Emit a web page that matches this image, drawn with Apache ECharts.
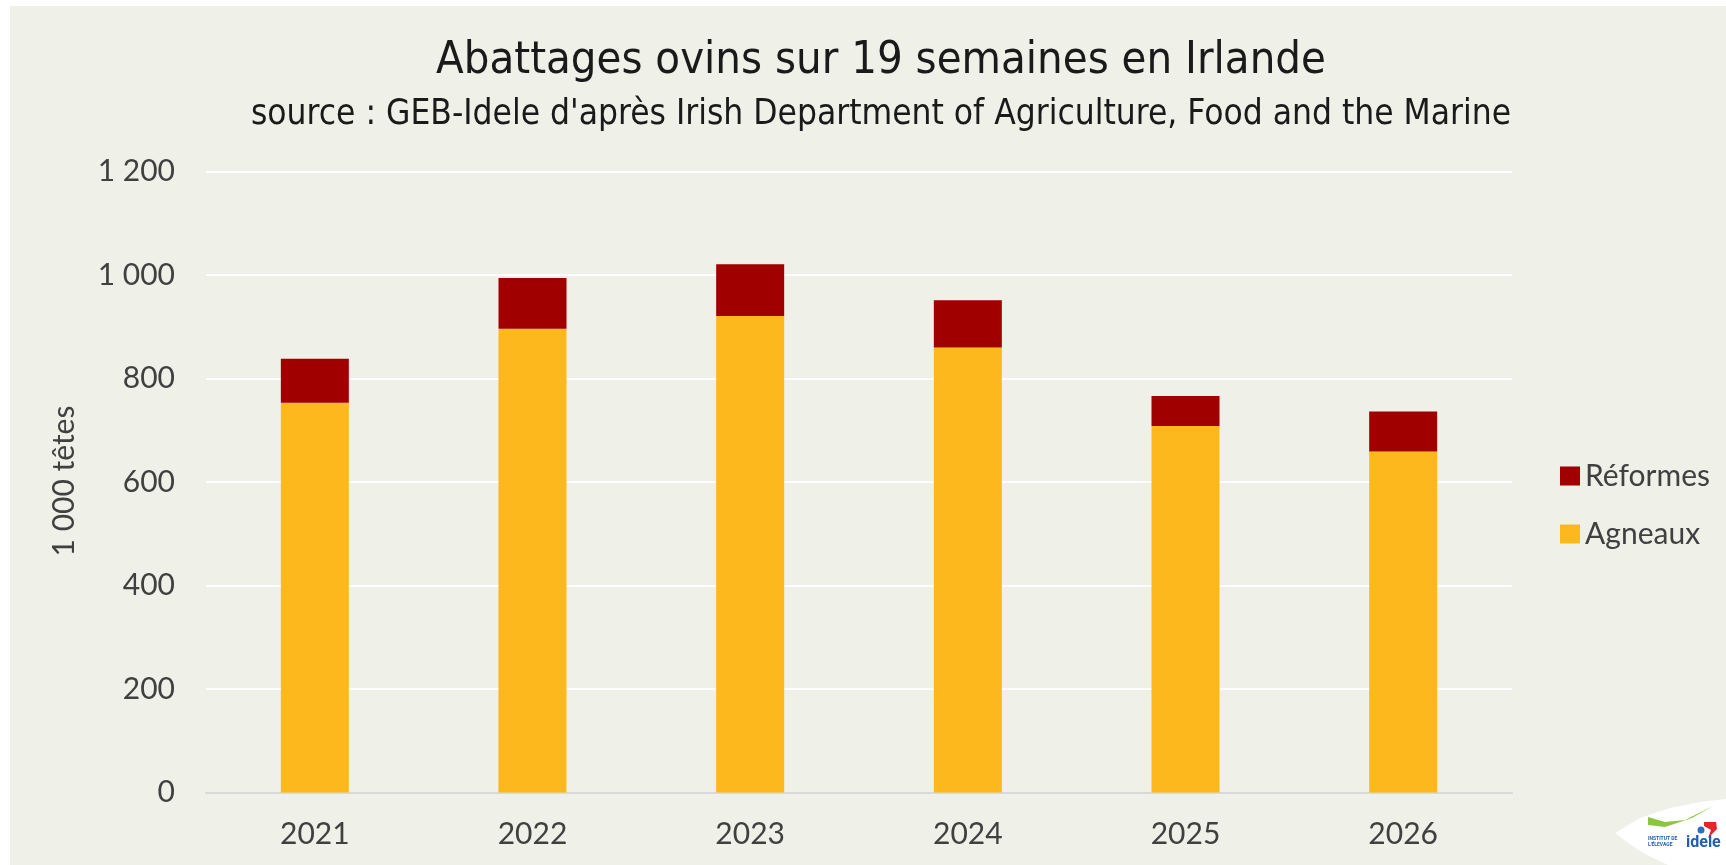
<!DOCTYPE html>
<html>
<head>
<meta charset="utf-8">
<script src="https://cdn.jsdelivr.net/npm/echarts@6/dist/echarts.min.js"></script>
<style>
  html, body { margin: 0; padding: 0; background: #ffffff; }
  #bg { position: absolute; left: 10px; top: 6px; width: 1716px; height: 859px; background: #eff0e8; }
  #chart_01 { position: absolute; left: 0; top: 0; width: 1726px; height: 865px; }
</style>
</head>
<body>
<div id="bg"></div>
<div id="chart_01"></div>
<script>
var years = ['2021', '2022', '2023', '2024', '2025', '2026'];
var agneaux = [753, 896, 921, 860, 708, 659];
var reformes = [85, 98, 100, 91, 58, 77];
var yTicks = [0, 200, 400, 600, 800, 1000, 1200];

function fmt(v) {
    // "1 200" style
    return String(v).replace(/\B(?=(\d{3})+(?!\d))/g, ' ');
}

var myChart = echarts.init(document.getElementById('chart_01'));
var option = {
    backgroundColor: 'transparent',
    animation: false,
    title: {
        text: 'Abattages ovins sur 19 semaines en Irlande',
        subtext: "source : GEB-Idele d'après Irish Department of Agriculture, Food and the Marine",
        left: 876,
        textAlign: 'center',
        top: 34,
        itemGap: 13,
        textStyle: {
            fontFamily: '"Liberation Sans Narrow", "DejaVu Sans Condensed", "Noto Sans"',
            fontSize: 45,
            fontWeight: 'normal',
            color: '#1a1a1a'
        },
        subtextStyle: {
            fontFamily: '"Liberation Sans Narrow", "DejaVu Sans Condensed", "Noto Sans"',
            fontSize: 35,
            color: '#1a1a1a'
        }
    },
    legend: {
        data: ['Réformes', 'Agneaux'],
        orient: 'vertical',
        left: 1555,
        top: 456,
        itemWidth: 20,
        itemHeight: 19,
        itemGap: 28,
        icon: 'rect',
        textStyle: {
            fontFamily: 'Lato',
            fontSize: 30,
            color: '#404040'
        }
    },
    grid: {
        left: 206,
        right: 214,
        top: 171.5,
        bottom: 72.5
    },
    xAxis: {
        type: 'category',
        data: years,
        axisLine: { lineStyle: { color: '#d9d9d9', width: 2 } },
        axisTick: { show: false },
        axisLabel: {
            margin: 27,
            fontFamily: 'Lato',
            fontSize: 30,
            color: '#404040'
        }
    },
    yAxis: {
        type: 'value',
        min: 0,
        max: 1200,
        interval: 200,
        axisLine: { show: false },
        axisTick: { show: false },
        splitLine: { lineStyle: { color: '#ffffff', width: 2 } },
        axisLabel: {
            margin: 31,
            fontFamily: 'Lato',
            fontSize: 30,
            color: '#404040',
            formatter: function (v) { return fmt(v); }
        }
    },
    graphic: [
        {
            type: 'text',
            x: 64,
            y: 481,
            rotation: Math.PI / 2,
            style: {
                text: '1 000 têtes',
                fontFamily: 'Lato',
                fontSize: 30,
                fill: '#404040',
                textAlign: 'center',
                textVerticalAlign: 'middle'
            }
        },
        // idele logo in the bottom right corner
        {
            type: 'polygon',
            shape: {
                points: [[1615, 833], [1640, 818], [1670, 808], [1700, 802], [1726, 799],
                         [1726, 865], [1668, 865], [1645, 854], [1628, 843]]
            },
            style: { fill: '#ffffff' }
        },
        {
            type: 'polygon',
            shape: { points: [[1648, 817], [1665, 822], [1685, 820], [1713, 806], [1692, 818], [1665, 827], [1648, 825]] },
            style: { fill: '#8cc63f' }
        },
        {
            type: 'polygon',
            shape: { points: [[1704, 822], [1716, 822], [1717, 829], [1708, 838], [1711, 830], [1704, 826]] },
            style: { fill: '#e3262b' }
        },
        {
            type: 'circle',
            shape: { cx: 1701, cy: 830, r: 3.5 },
            style: { fill: '#2f6fb7' }
        },
        {
            type: 'text',
            x: 1686,
            y: 843,
            style: {
                text: 'idele',
                fontFamily: 'Roboto',
                fontWeight: 'bold',
                fontSize: 16,
                fill: '#1f5fae',
                textVerticalAlign: 'middle'
            }
        },
        {
            type: 'text',
            x: 1648,
            y: 839,
            style: { text: 'INSTITUT DE', fontFamily: 'Roboto', fontWeight: 'bold', fontSize: 5, fill: '#1f5fae', textVerticalAlign: 'middle' }
        },
        {
            type: 'text',
            x: 1648,
            y: 845,
            style: { text: "L'ÉLEVAGE", fontFamily: 'Roboto', fontWeight: 'bold', fontSize: 5, fill: '#1f5fae', textVerticalAlign: 'middle' }
        }
    ],
    series: [
        {
            name: 'Agneaux',
            type: 'bar',
            stack: 'total',
            data: agneaux,
            barWidth: 68,
            itemStyle: { color: '#fdb81e' }
        },
        {
            name: 'Réformes',
            type: 'bar',
            stack: 'total',
            data: reformes,
            barWidth: 68,
            itemStyle: { color: '#a00000' }
        }
    ]
};
myChart.setOption(option);
window.addEventListener('resize', function () {
    myChart.resize();
});
</script>
</body>
</html>
